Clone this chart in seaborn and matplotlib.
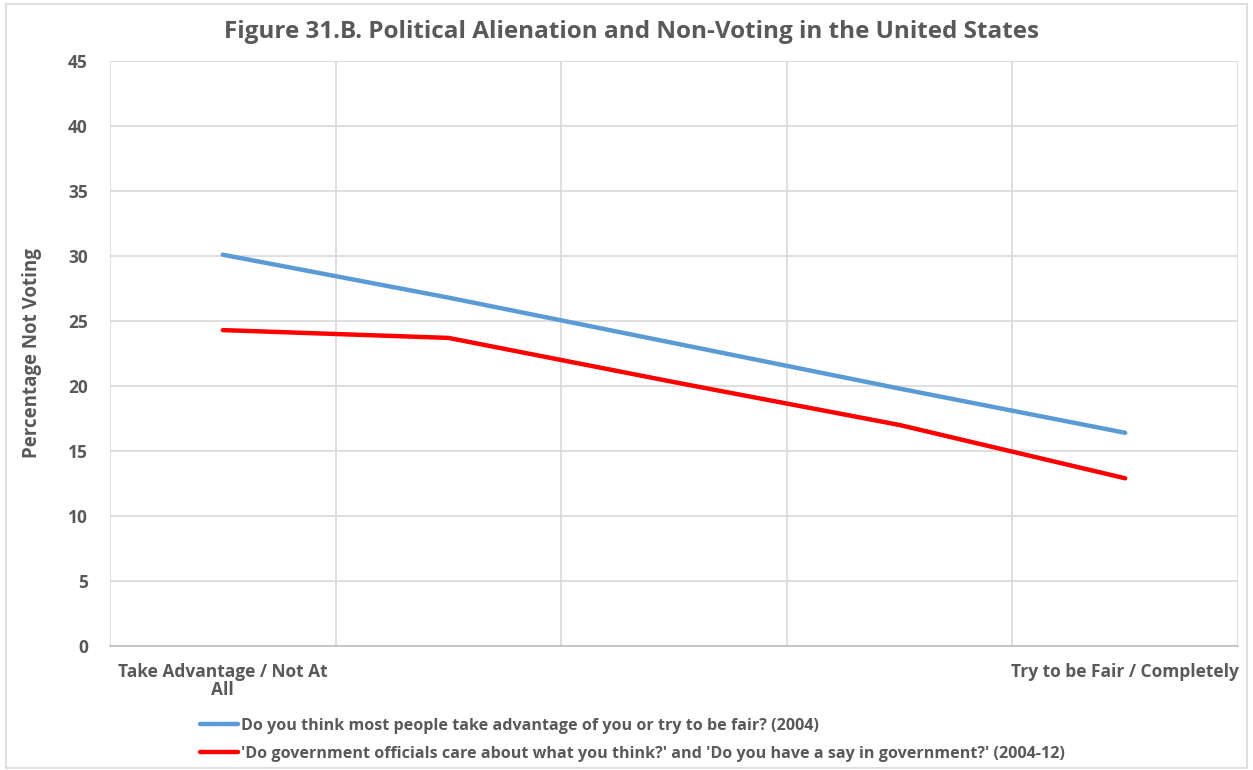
import matplotlib
matplotlib.use("Agg")
import matplotlib.pyplot as plt
import seaborn as sns
import pandas as pd
from matplotlib.patches import Rectangle

# Data
categories = ["Take Advantage / Not At\nAll", "", "", "", "Try to be Fair / Completely"]
trust_2004 = [30.1, 26.8, 23.3, 19.8, 16.4]
efficacy_2004_12 = [24.3, 23.7, 20.3, 17.0, 12.9]
series_names = [
    "Do you think most people take advantage of you or try to be fair? (2004)",
    "'Do government officials care about what you think?' and 'Do you have a say in government?' (2004-12)",
]
y_ticks = [0, 5, 10, 15, 20, 25, 30, 35, 40, 45]

df = pd.DataFrame({
    "pos": list(range(len(categories))) * 2,
    "value": trust_2004 + efficacy_2004_12,
    "series": [series_names[0]] * len(categories) + [series_names[1]] * len(categories),
})

sns.set_theme(style="white")
plt.rcParams["font.family"] = ["Open Sans", "DejaVu Sans"]
text_color = "#595959"
grid_color = "#d9d9d9"

fig = plt.figure(figsize=(12.53, 7.70), dpi=100)
ax = fig.add_axes([110 / 1253, 1 - 646 / 770, (1238 - 110) / 1253, (646 - 61) / 770])

sns.lineplot(
    data=df, x="pos", y="value", hue="series", hue_order=series_names,
    palette=["#5B9BD5", "#FF0000"], linewidth=3.2, ax=ax, legend=True,
)

ax.set_xlim(-0.5, len(categories) - 0.5)
ax.set_ylim(0, 45)
ax.set_yticks(y_ticks)
ax.set_yticklabels([str(t) for t in y_ticks], fontsize=12.5, fontweight="bold", color=text_color)
ax.set_xticks(range(len(categories)))
ax.set_xticklabels(categories, fontsize=12.5, fontweight="bold", color=text_color,
                   linespacing=1.0)
ax.set_xticks([i - 0.5 for i in range(len(categories) + 1)], minor=True)
ax.tick_params(axis="both", which="both", length=0)
ax.tick_params(axis="x", pad=12)
ax.tick_params(axis="y", pad=16)

ax.grid(False)
ax.yaxis.grid(True, color=grid_color, linewidth=1.2)
ax.xaxis.grid(True, which="minor", color=grid_color, linewidth=1.2)
for side in ["top", "right", "left"]:
    ax.spines[side].set_visible(False)
ax.spines["bottom"].set_color("#bfbfbf")
ax.spines["bottom"].set_linewidth(1.2)

ax.set_xlabel("")
ax.set_ylabel("Percentage Not Voting", fontsize=13.5, fontweight="bold", color=text_color, labelpad=19)

fig.text(632 / 1253, 1 - 32 / 770,
         "Figure 31.B. Political Alienation and Non-Voting in the United States",
         ha="center", va="center", fontsize=17.5, fontweight="bold", color=text_color)

handles, labels = ax.get_legend_handles_labels()
ax.legend(
    handles, labels, loc="upper left", bbox_to_anchor=(186 / 1253, 1 - 703 / 770),
    bbox_transform=fig.transFigure, frameon=False, handlelength=2.3,
    handletextpad=0.2, labelspacing=0.78, labelcolor=text_color,
    prop={"weight": "bold", "size": 11.6},
)

# Outer chart border
fig.add_artist(Rectangle((6 / 1253, 2 / 770), 1 - 12 / 1253, 1 - 6 / 770,
                         transform=fig.transFigure, fill=False,
                         edgecolor="#d9d9d9", linewidth=1.2))

fig.savefig("out.png", dpi=100, facecolor="white")
